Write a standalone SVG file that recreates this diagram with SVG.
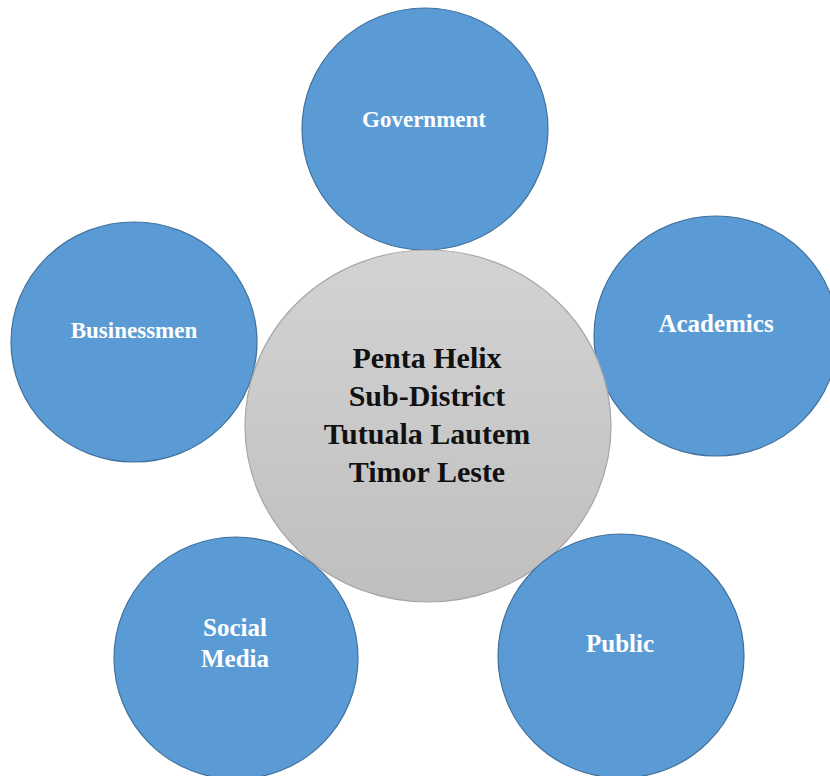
<svg xmlns="http://www.w3.org/2000/svg" width="830" height="776" viewBox="0 0 830 776">
<style>
.blue{fill:#5b9bd5;stroke:#41719c;stroke-width:1.2}
.lbl{font-family:"Liberation Serif","Times New Roman",serif;font-weight:bold;fill:#ffffff;text-anchor:middle;font-size:25px}
.ctr{font-family:"Liberation Serif","Times New Roman",serif;font-weight:bold;fill:#111111;text-anchor:middle;font-size:30px}
</style>
<defs>
<linearGradient id="gray" x1="0" y1="0" x2="0" y2="1">
<stop offset="0" stop-color="#d3d3d3"/>
<stop offset="1" stop-color="#bfbfbf"/>
</linearGradient>
</defs>
<rect width="830" height="776" fill="#ffffff"/>
<g id="connectors"></g>
<g id="government">
<ellipse class="blue" cx="425" cy="129" rx="123" ry="121"/>
<text class="lbl" x="424" y="127" style="font-size:23px">Government</text>
</g>
<g id="businessmen">
<ellipse class="blue" cx="134" cy="342" rx="123" ry="120"/>
<text class="lbl" x="134" y="338" style="font-size:23px">Businessmen</text>
</g>
<g id="academics">
<ellipse class="blue" cx="716" cy="336" rx="122" ry="120"/>
<text class="lbl" x="716" y="332">Academics</text>
</g>
<g id="center">
<ellipse cx="428" cy="426" rx="183" ry="176" fill="url(#gray)" stroke="#a6a6a6" stroke-width="1.2"/>
<text class="ctr" x="427" y="368">Penta Helix</text>
<text class="ctr" x="427" y="406">Sub-District</text>
<text class="ctr" x="427" y="444">Tutuala Lautem</text>
<text class="ctr" x="427" y="482">Timor Leste</text>
</g>
<g id="social-media">
<ellipse class="blue" cx="236" cy="658" rx="122" ry="121"/>
<text class="lbl" x="235" y="636">Social</text>
<text class="lbl" x="235" y="667">Media</text>
</g>
<g id="public">
<ellipse class="blue" cx="621" cy="656" rx="123" ry="122"/>
<text class="lbl" x="620" y="652">Public</text>
</g>
</svg>
